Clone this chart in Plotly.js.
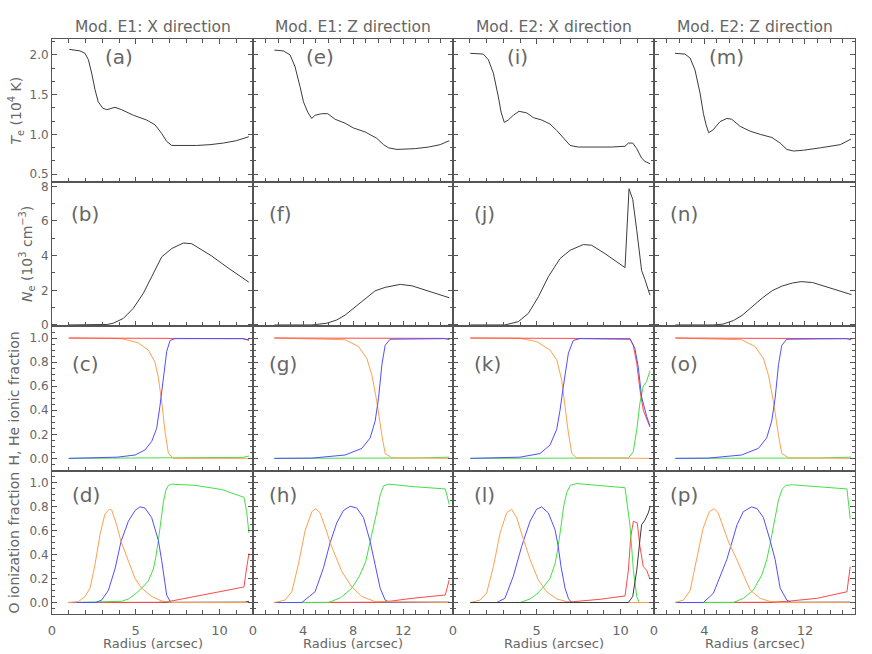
<!DOCTYPE html>
<html><head><meta charset="utf-8">
<script src="https://cdn.plot.ly/plotly-3.0.1.min.js"></script>
<style>html,body{margin:0;padding:0;background:#fff}#chart{width:872px;height:654px}</style>
</head><body><div id="chart"></div>
<script>
// ---------- column titles, labels ----------
const colTitles = ["Mod. E1: X direction","Mod. E1: Z direction","Mod. E2: X direction","Mod. E2: Z direction"];
const panelLetters = [["(a)","(e)","(i)","(m)"],["(b)","(f)","(j)","(n)"],["(c)","(g)","(k)","(o)"],["(d)","(h)","(l)","(p)"]];
const yTitles = ["<i>T</i><sub>e</sub> (10<sup>4</sup> K)","<i>N</i><sub>e</sub> (10<sup>3</sup> cm<sup>−3</sup>)","H, He ionic fraction","O ionization fraction"];
const xTitle = "Radius (arcsec)";

// ---------- Row 1: electron temperature ----------
const teA_x = [1.03,1.67,1.97,2.17,2.37,2.57,2.76,3.03,3.27,3.76,4.16,4.86,5.65,6.15,6.55,6.85,7.15,7.85,8.64,9.43,10.23,11.0,11.75];
const teA_y = [2.07,2.05,2.02,1.94,1.77,1.56,1.41,1.33,1.31,1.34,1.31,1.24,1.18,1.12,1.01,0.91,0.86,0.86,0.86,0.87,0.89,0.92,0.97];
const teE_x = [1.71,2.43,2.96,3.36,3.76,4.03,4.37,4.69,4.96,5.49,5.97,6.56,7.36,8.03,8.96,9.89,10.43,10.83,11.5,12.96,14.03,14.96,15.68];
const teE_y = [2.06,2.05,2.0,1.85,1.6,1.41,1.28,1.20,1.24,1.26,1.26,1.19,1.14,1.08,1.03,0.95,0.87,0.83,0.81,0.82,0.84,0.87,0.92];
const teI_x = [1.03,1.81,2.11,2.41,2.71,2.87,3.06,3.30,3.60,3.94,4.40,4.80,5.30,5.79,6.19,6.59,6.99,7.48,8.48,9.47,10.27,10.47,10.73,10.97,11.26,11.46,11.76];
const teI_y = [2.02,2.01,1.94,1.77,1.47,1.28,1.15,1.18,1.24,1.29,1.27,1.21,1.18,1.13,1.05,0.95,0.86,0.84,0.84,0.84,0.85,0.89,0.89,0.82,0.70,0.66,0.63];
const teM_x = [1.67,2.47,2.87,3.26,3.66,3.93,4.14,4.35,4.72,5.25,5.79,6.18,6.85,7.64,8.44,9.37,10.03,10.56,11.09,11.89,13.22,14.81,15.66];
const teM_y = [2.02,2.01,1.96,1.81,1.52,1.26,1.12,1.02,1.06,1.16,1.20,1.19,1.10,1.04,1.0,0.96,0.89,0.81,0.79,0.80,0.83,0.87,0.94];

// ---------- Row 2: electron density ----------
const neB_x = [1.0,2.0,2.87,3.3,3.66,4.26,4.85,5.45,5.95,6.55,7.15,7.84,8.34,8.84,9.5,10.5,11.2,11.75];
const neB_y = [0,0,0,0.03,0.1,0.38,0.96,1.82,2.78,3.93,4.41,4.73,4.69,4.41,4.0,3.3,2.85,2.47];
const neF_x = [1.7,3.5,4.7,5.9,6.7,7.36,8.16,8.96,9.76,10.56,11.76,12.7,14.0,15.68];
const neF_y = [0,0,0,0.1,0.29,0.57,1.05,1.53,1.97,2.17,2.34,2.26,1.97,1.57];
const neJ_x = [1.03,2.0,3.1,3.9,4.5,5.1,5.69,6.39,6.99,7.78,8.28,9.07,10.27,10.51,10.73,10.97,11.26,11.46,11.76];
const neJ_y = [0,0,0,0.19,0.67,1.63,2.78,3.83,4.31,4.64,4.6,4.12,3.31,7.86,7.25,5.46,3.14,2.62,1.72];
const neN_x = [1.7,3.5,4.7,5.5,6.3,7.0,7.8,8.6,9.4,10.2,11.0,11.7,12.6,14.0,15.7];
const neN_y = [0,0,0,0.05,0.25,0.55,1.05,1.55,1.98,2.25,2.42,2.5,2.45,2.15,1.75];

// ---------- Row 3: H, He ionic fractions ----------
const hC_red_x = [1.0,11.4,11.76], hC_red_y = [1.0,0.995,0.98];
const hC_orange_x = [1.0,4.16,5.15,5.75,6.15,6.35,6.55,6.75,6.95,7.25,11.76];
const hC_orange_y = [1.0,0.995,0.96,0.90,0.80,0.67,0.47,0.22,0.04,0.0,0.0];
const hC_blue_x = [1.0,3.9,4.96,5.55,5.95,6.25,6.45,6.65,6.85,7.05,7.34,11.4,11.76];
const hC_blue_y = [0,0.01,0.028,0.07,0.14,0.25,0.44,0.69,0.89,0.98,0.995,0.995,0.985];
const hC_green_x = [1.0,10.0,11.4,11.76], hC_green_y = [0,0.002,0.008,0.02];

const hG_red_x = [1.7,15.3,15.68], hG_red_y = [1.0,0.997,0.99];
const hG_orange_x = [1.7,7.36,8.43,9.1,9.5,9.9,10.3,10.56,11.1,15.68];
const hG_orange_y = [1.0,0.986,0.93,0.83,0.69,0.47,0.19,0.04,0.005,0];
const hG_blue_x = [1.7,4.7,7.36,8.7,9.36,9.76,10.03,10.3,10.56,10.96,15.3,15.68];
const hG_blue_y = [0,0.002,0.028,0.083,0.17,0.31,0.5,0.78,0.94,0.99,0.995,0.99];
const hG_green_x = [1.7,13.0,15.68], hG_green_y = [0,0.003,0.01];

const hK_red_x = [1.03,10.57,10.76,10.97,11.16,11.36,11.76];
const hK_red_y = [1.0,0.995,0.94,0.79,0.57,0.40,0.26];
const hK_orange_x = [1.03,4.0,5.0,5.79,6.19,6.49,6.69,6.89,7.09,7.38,11.76];
const hK_orange_y = [1.0,0.998,0.97,0.90,0.82,0.65,0.43,0.21,0.04,0.005,0];
const hK_blue_x = [1.03,4.0,5.19,5.79,6.19,6.39,6.59,6.89,7.18,7.58,10.57,10.85,11.06,11.26,11.56,11.76];
const hK_blue_y = [0,0.01,0.04,0.11,0.24,0.40,0.60,0.875,0.98,0.995,0.99,0.92,0.76,0.51,0.35,0.27];
const hK_green_x = [1.03,10.47,10.76,10.97,11.16,11.36,11.56,11.76];
const hK_green_y = [0,0.003,0.055,0.24,0.46,0.60,0.64,0.73];

const hO_red_x = [1.7,15.3,15.68], hO_red_y = [1.0,0.995,0.985];
const hO_orange_x = [1.7,6.96,8.03,8.7,9.1,9.5,9.9,10.16,10.7,15.68];
const hO_orange_y = [1.0,0.986,0.93,0.83,0.69,0.47,0.19,0.04,0.005,0];
const hO_blue_x = [1.7,4.3,6.96,8.3,8.96,9.36,9.63,9.9,10.16,10.56,15.3,15.68];
const hO_blue_y = [0,0.002,0.028,0.083,0.17,0.31,0.5,0.78,0.94,0.99,0.995,0.99];
const hO_green_x = [1.7,13.0,15.68], hO_green_y = [0,0.003,0.01];

// ---------- Row 4: O ionization fractions ----------
const oD_orange_x = [0.97,1.57,1.97,2.27,2.57,2.87,3.16,3.42,3.56,3.86,4.12,4.56,4.96,5.35,5.95,6.55,7.15,11.76];
const oD_orange_y = [0,0.007,0.05,0.12,0.32,0.57,0.74,0.78,0.775,0.65,0.51,0.34,0.20,0.12,0.05,0.013,0,0];
const oD_blue_x = [0.97,2.6,2.96,3.36,3.76,4.12,4.56,4.96,5.25,5.55,5.95,6.35,6.55,6.7,6.85,7.1,11.76];
const oD_blue_y = [0,0,0.02,0.10,0.28,0.51,0.68,0.77,0.80,0.79,0.71,0.52,0.35,0.18,0.06,0,0];
const oD_green_x = [0.97,3.5,4.16,4.56,4.96,5.35,5.75,6.05,6.2,6.35,6.5,6.65,6.8,6.95,7.15,8.54,10.13,11.46,11.62,11.76];
const oD_green_y = [0,0.003,0.01,0.03,0.07,0.12,0.18,0.28,0.38,0.52,0.68,0.84,0.94,0.98,0.99,0.98,0.945,0.88,0.76,0.58];
const oD_red_x = [0.97,6.35,7.15,8.54,10.13,11.46,11.62,11.76];
const oD_red_y = [0,0,0.013,0.05,0.09,0.13,0.29,0.41];
const oD_black_x = [0.97,11.5,11.76], oD_black_y = [0,0.003,0.01];

const oH_orange_x = [1.7,2.56,3.1,3.63,4.16,4.7,5.01,5.36,5.9,6.16,6.43,7.09,7.9,8.7,9.76,15.68];
const oH_orange_y = [0,0.02,0.09,0.32,0.60,0.76,0.785,0.75,0.59,0.50,0.43,0.26,0.13,0.05,0.007,0];
const oH_blue_x = [1.7,3.9,4.96,5.63,6.16,6.69,7.23,7.76,8.3,8.83,9.36,9.76,10.16,10.56,10.96,15.68];
const oH_blue_y = [0,0,0.09,0.29,0.50,0.665,0.77,0.805,0.79,0.71,0.51,0.315,0.12,0.02,0,0];
const oH_green_x = [1.7,6.03,7.0,7.9,8.5,9.0,9.36,9.65,9.9,10.16,10.43,10.83,12.7,15.36,15.68];
const oH_green_y = [0,0,0.04,0.12,0.22,0.34,0.51,0.64,0.76,0.90,0.975,0.99,0.97,0.95,0.82];
const oH_red_x = [1.7,9.5,11.1,12.7,15.36,15.68], oH_red_y = [0,0,0.013,0.035,0.063,0.19];
const oH_black_x = [1.7,15.68], oH_black_y = [0,0.003];

const oL_orange_x = [1.03,1.61,2.01,2.41,2.81,3.2,3.5,3.8,4.2,4.6,5.09,5.59,6.19,6.99,11.76];
const oL_orange_y = [0,0.02,0.08,0.30,0.58,0.75,0.78,0.71,0.53,0.36,0.19,0.09,0.03,0,0];
const oL_blue_x = [1.03,2.61,3.1,3.6,4.1,4.6,4.99,5.29,5.69,6.09,6.27,6.45,6.69,6.9,7.1,11.76];
const oL_blue_y = [0,0,0.035,0.22,0.47,0.68,0.78,0.80,0.75,0.61,0.48,0.30,0.12,0.03,0,0];
const oL_green_x = [1.03,4.0,4.6,5.0,5.4,5.79,6.1,6.27,6.45,6.6,6.79,7.0,7.38,10.27,10.57,10.77,10.97,11.12,11.76];
const oL_green_y = [0,0,0.03,0.07,0.13,0.2,0.33,0.46,0.64,0.80,0.92,0.98,0.995,0.96,0.64,0.27,0.05,0,0];
const oL_red_x = [1.03,6.5,7.18,8.78,10.27,10.47,10.61,10.77,11.0,11.16,11.36,11.56,11.76];
const oL_red_y = [0,0,0.007,0.027,0.055,0.27,0.55,0.68,0.665,0.47,0.30,0.27,0.195];
const oL_black_x = [1.03,10.47,10.73,10.97,11.16,11.26,11.46,11.66,11.76];
const oL_black_y = [0,0,0.05,0.27,0.525,0.65,0.69,0.75,0.80];

const oP_orange_x = [1.67,2.33,2.87,3.4,3.9,4.4,4.78,5.1,5.65,5.95,6.58,7.11,7.64,8.44,9.2,10.0,15.7];
const oP_orange_y = [0,0.02,0.1,0.36,0.62,0.76,0.785,0.75,0.59,0.50,0.36,0.23,0.105,0.035,0.01,0,0];
const oP_blue_x = [1.67,3.93,4.72,5.39,5.79,6.1,6.6,7.1,7.75,8.2,8.7,9.2,9.63,10.03,10.56,10.9,15.7];
const oP_blue_y = [0,0,0.077,0.25,0.36,0.47,0.65,0.76,0.80,0.785,0.71,0.53,0.36,0.12,0.02,0,0];
const oP_green_x = [1.67,6.3,7.11,7.9,8.57,8.97,9.25,9.6,9.9,10.2,10.5,11.0,13.0,15.34,15.6];
const oP_green_y = [0,0,0.035,0.105,0.23,0.36,0.5,0.7,0.86,0.95,0.98,0.985,0.97,0.95,0.70];
const oP_red_x = [1.67,9.0,10.56,12.95,15.34,15.6], oP_red_y = [0,0,0.01,0.035,0.09,0.3];
const oP_black_x = [1.67,15.6], oP_black_y = [0,0.003];

// ---------- styling ----------
const C_BLACK = '#3c3c3c', C_RED = '#ff4848', C_ORANGE = '#ffa050', C_BLUE = '#5050ff', C_GREEN = '#44e044';
const AX = '#555', TXT = '#666', FONT = 'DejaVu Sans, sans-serif';
const W = 872, H = 654;
const colPx = [[52,253],[253,453],[453,654],[654,855]];
const rowPx = [[39,182],[182,326],[326,471],[471,614]];
const xRanges = [[0,12],[0,15.98],[0,12],[0,15.98]];
const xDtick = [5,4,5,4];
const yRanges = [[0.4,2.2],[-0.06,8.25],[-0.105,1.1],[-0.096,1.1]];
const yDtick = [0.5,2,0.2,0.2];
const yMinor = [0.5/3,1,0.05,0.05];
const yTick0 = [0.5,0,0,0];
const yFormat = ['.1f','d','.1f','.1f'];

function sfx(id){ return id === 1 ? '' : String(id); }
const traces = [];
function add(r,c,x,y,color){
  const id = r*4+c+1;
  traces.push({x:x,y:y,type:'scatter',mode:'lines',line:{color:color,width:1},
    xaxis:'x'+sfx(id), yaxis:'y'+sfx(id), hoverinfo:'skip', showlegend:false});
}
// row 1
add(0,0,teA_x,teA_y,C_BLACK); add(0,1,teE_x,teE_y,C_BLACK); add(0,2,teI_x,teI_y,C_BLACK); add(0,3,teM_x,teM_y,C_BLACK);
// row 2
add(1,0,neB_x,neB_y,C_BLACK); add(1,1,neF_x,neF_y,C_BLACK); add(1,2,neJ_x,neJ_y,C_BLACK); add(1,3,neN_x,neN_y,C_BLACK);
// row 3 (order: green, orange, red, blue)
add(2,0,hC_green_x,hC_green_y,C_GREEN); add(2,0,hC_orange_x,hC_orange_y,C_ORANGE); add(2,0,hC_red_x,hC_red_y,C_RED); add(2,0,hC_blue_x,hC_blue_y,C_BLUE);
add(2,1,hG_green_x,hG_green_y,C_GREEN); add(2,1,hG_orange_x,hG_orange_y,C_ORANGE); add(2,1,hG_red_x,hG_red_y,C_RED); add(2,1,hG_blue_x,hG_blue_y,C_BLUE);
add(2,2,hK_green_x,hK_green_y,C_GREEN); add(2,2,hK_orange_x,hK_orange_y,C_ORANGE); add(2,2,hK_red_x,hK_red_y,C_RED); add(2,2,hK_blue_x,hK_blue_y,C_BLUE);
add(2,3,hO_green_x,hO_green_y,C_GREEN); add(2,3,hO_orange_x,hO_orange_y,C_ORANGE); add(2,3,hO_red_x,hO_red_y,C_RED); add(2,3,hO_blue_x,hO_blue_y,C_BLUE);
// row 4 (order: black, red, green, blue, orange)
add(3,0,oD_black_x,oD_black_y,C_BLACK); add(3,0,oD_red_x,oD_red_y,C_RED); add(3,0,oD_green_x,oD_green_y,C_GREEN); add(3,0,oD_blue_x,oD_blue_y,C_BLUE); add(3,0,oD_orange_x,oD_orange_y,C_ORANGE);
add(3,1,oH_black_x,oH_black_y,C_BLACK); add(3,1,oH_red_x,oH_red_y,C_RED); add(3,1,oH_green_x,oH_green_y,C_GREEN); add(3,1,oH_blue_x,oH_blue_y,C_BLUE); add(3,1,oH_orange_x,oH_orange_y,C_ORANGE);
add(3,2,oL_red_x,oL_red_y,C_RED); add(3,2,oL_green_x,oL_green_y,C_GREEN); add(3,2,oL_blue_x,oL_blue_y,C_BLUE); add(3,2,oL_orange_x,oL_orange_y,C_ORANGE); add(3,2,oL_black_x,oL_black_y,C_BLACK);
add(3,3,oP_black_x,oP_black_y,C_BLACK); add(3,3,oP_red_x,oP_red_y,C_RED); add(3,3,oP_green_x,oP_green_y,C_GREEN); add(3,3,oP_blue_x,oP_blue_y,C_BLUE); add(3,3,oP_orange_x,oP_orange_y,C_ORANGE);

const layout = {width:W,height:H,margin:{l:0,r:0,t:0,b:0},paper_bgcolor:'#fff',plot_bgcolor:'#fff',
  showlegend:false,font:{family:FONT,color:TXT},annotations:[]};
const tickFont = {family:FONT,size:12,color:TXT};
for(let r=0;r<4;r++){
  for(let c=0;c<4;c++){
    const id = r*4+c+1;
    layout['xaxis'+sfx(id)] = {
      domain:[colPx[c][0]/W, colPx[c][1]/W], range:xRanges[c], tickmode:'linear', tick0:0, dtick:xDtick[c],
      ticks:'inside', ticklen:5, tickwidth:1, tickcolor:AX,
      minor:{tickmode:'linear', tick0:0, dtick:1, ticks:'inside', ticklen:4, tickwidth:1, tickcolor:AX, showgrid:false},
      showline:true, linecolor:AX, linewidth:1, mirror: r===0 ? 'ticks' : true,
      showgrid:false, zeroline:false, showticklabels: r===3, tickfont:{family:FONT,size:13,color:TXT}, ticklabelstandoff:4,
      anchor:'y'+sfx(id), fixedrange:true
    };
    layout['yaxis'+sfx(id)] = {
      domain:[1-rowPx[r][1]/H, 1-rowPx[r][0]/H], range:yRanges[r], tickmode:'linear', tick0:yTick0[r], dtick:yDtick[r],
      ticks:'inside', ticklen:5, tickwidth:1, tickcolor:AX,
      minor:{tickmode:'linear', tick0:yTick0[r], dtick:yMinor[r], ticks:'inside', ticklen:3, tickwidth:1, tickcolor:AX, showgrid:false},
      showline:true, linecolor:AX, linewidth:1, mirror:'ticks',
      showgrid:false, zeroline:false, showticklabels: c===0, tickfont:tickFont, tickformat:yFormat[r],
      anchor:'x'+sfx(id), fixedrange:true
    };
  }
}
// column titles and x titles
const colCenters = colPx.map(p => (p[0]+p[1])/2);
for(let c=0;c<4;c++){
  layout.annotations.push({xref:'paper',yref:'paper',x:colCenters[c]/W,y:1-26.5/H,text:colTitles[c],showarrow:false,
    xanchor:'center',yanchor:'middle',font:{family:FONT,size:15.5,color:TXT}});
  layout.annotations.push({xref:'paper',yref:'paper',x:colCenters[c]/W,y:1-643/H,text:xTitle,showarrow:false,
    xanchor:'center',yanchor:'middle',font:{family:FONT,size:13,color:TXT}});
}
// panel letters
const letterOffset = [[51,51,52,53],[17,14,19,14],[18,14,19,14],[18,14,19,14]];
const letterY = [57,214,364,495];
for(let r=0;r<4;r++) for(let c=0;c<4;c++){
  layout.annotations.push({xref:'paper',yref:'paper',x:(colPx[c][0]+letterOffset[r][c])/W,y:1-letterY[r]/H,
    text:panelLetters[r][c],showarrow:false,xanchor:'left',yanchor:'middle',font:{family:FONT,size:20,color:TXT}});
}
// y titles
const yTitleX = [16,27,13,13];
for(let r=0;r<4;r++){
  layout.annotations.push({xref:'paper',yref:'paper',x:yTitleX[r]/W,y:1-(rowPx[r][0]+rowPx[r][1])/2/H,
    text:yTitles[r],showarrow:false,textangle:-90,xanchor:'center',yanchor:'middle',font:{family:FONT,size:14,color:TXT}});
}
Plotly.newPlot('chart',traces,layout,{staticPlot:true,displayModeBar:false});
</script></body></html>
